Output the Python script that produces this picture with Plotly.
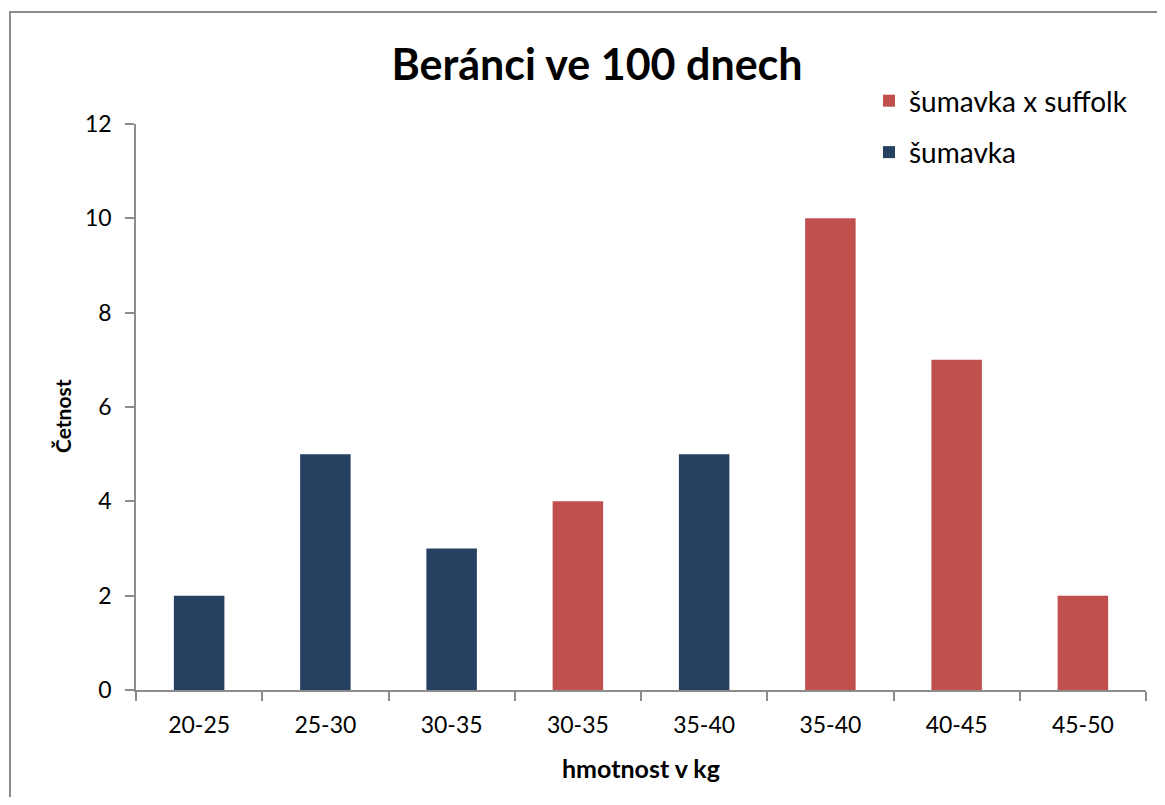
import plotly.graph_objects as go

categories = ["20-25", "25-30", "30-35", "30-35", "35-40", "35-40", "40-45", "45-50"]
sumavka = [2, 5, 3, None, 5, None, None, None]
sumavka_suffolk = [None, None, None, 4, None, 10, 7, 2]

positions = list(range(len(categories)))

# page offset of plotly div (default body margin)
OFF = 8
L, R, T, B = 128, 11, 116, 107
W, H = 1149, 789
pw, ph = W - L - R, H - T - B
PL, PB = OFF + L, OFF + H - B  # page coords of plot left / bottom


def px(X):
    return (X - PL) / pw


def py(Y):
    return (PB - Y) / ph


font = "Lato, 'Open Sans', sans-serif"

fig = go.Figure()
fig.add_trace(go.Bar(x=positions, y=sumavka_suffolk, name="šumavka x suffolk", legendgroup="a",
                     marker=dict(color="#C0504D", line=dict(width=0)), width=0.4))
fig.add_trace(go.Bar(x=positions, y=sumavka, name="šumavka", legendgroup="b",
                     marker=dict(color="#254061", line=dict(width=0)), width=0.4))

fig.update_layout(
    width=W, height=H,
    margin=dict(l=L, r=R, t=T, b=B),
    paper_bgcolor="white", plot_bgcolor="white",
    barmode="overlay",
    font=dict(family=font, color="black", size=22),
    title=dict(text="<b>Beránci ve 100 dnech</b>", x=(597 - OFF) / W, xref="container", xanchor="center",
               y=1 - (65 - OFF) / H, yref="container", yanchor="middle",
               font=dict(size=43, family=font, color="black")),
    legend=dict(x=px(869), y=py(76), xanchor="left", yanchor="top",
                font=dict(size=28, family=font), traceorder="grouped", tracegroupgap=12,
                itemwidth=30, bgcolor="rgba(0,0,0,0)"),
    showlegend=True,
    xaxis=dict(
        range=[-0.5, 7.5], tickvals=positions, ticktext=categories,
        showline=True, linecolor="#8c8c8c", linewidth=1.5,
        ticks="", showgrid=False, zeroline=False,
        tickfont=dict(size=23, family=font), ticklabelstandoff=14,
        minor=dict(tickvals=[p - 0.5 for p in positions] + [7.5], ticks="outside",
                   ticklen=9, tickcolor="#8c8c8c", tickwidth=1.5, showgrid=False),
    ),
    yaxis=dict(
        range=[0, 12], dtick=2, showline=True, linecolor="#8c8c8c", linewidth=1.5,
        ticks="outside", ticklen=9, tickcolor="#8c8c8c", tickwidth=1.5,
        showgrid=False, zeroline=False, ticklabelstandoff=9,
        tickfont=dict(size=23, family=font),
    ),
    annotations=[
        dict(text="<b>hmotnost v kg</b>", xref="paper", yref="paper", x=px(641), y=py(768),
             xanchor="center", yanchor="middle", showarrow=False, font=dict(size=25, family=font)),
        dict(text="<b>Četnost</b>", xref="paper", yref="paper", x=px(62), y=py(416),
             xanchor="center", yanchor="middle", showarrow=False, textangle=-90,
             font=dict(size=21, family=font)),
    ],
    shapes=[dict(type="rect", xref="paper", yref="paper",
                 x0=px(10), x1=px(1200), y0=py(850), y1=py(12),
                 line=dict(color="#8c8c8c", width=2), fillcolor="rgba(0,0,0,0)", layer="below")],
)

fig.write_html("out.html")
